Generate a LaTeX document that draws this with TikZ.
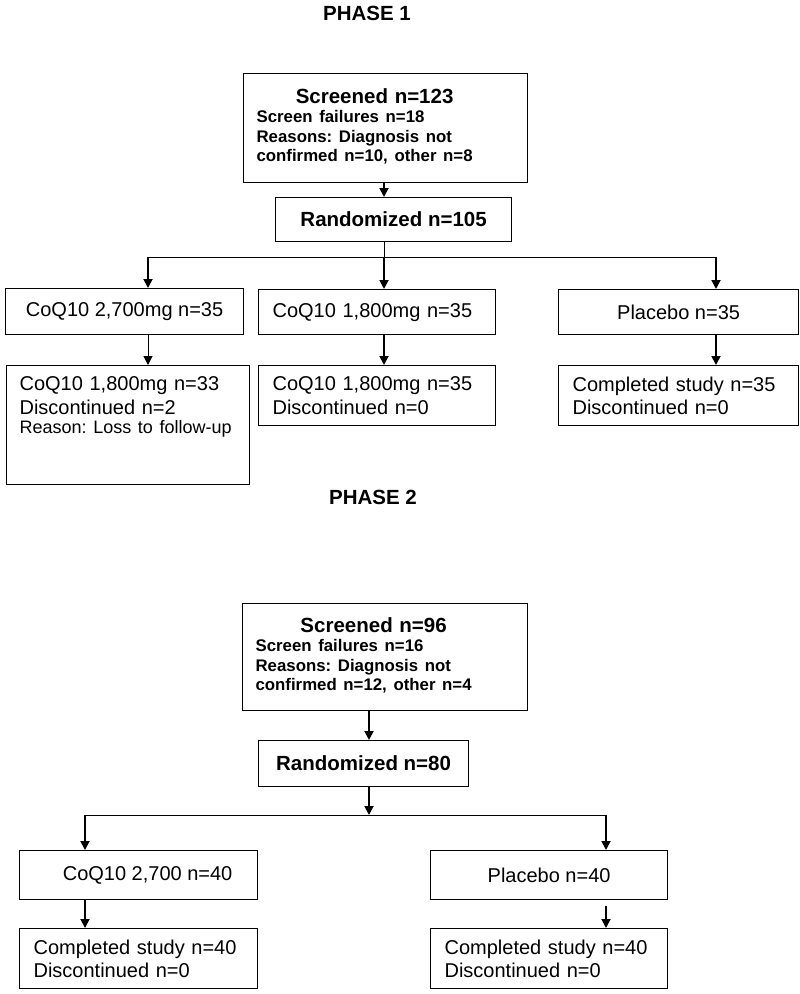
\documentclass[tikz,border=0pt]{standalone}
\usepackage{fontspec}
\setmainfont{Liberation Sans}
\usepackage{tikz}
\usetikzlibrary{arrows.meta}

\newcommand\armfont{\fontsize{20}{23.5}\selectfont}
\newcommand\bigfont{\fontsize{20.5}{24}\selectfont\bfseries}
\newcommand\notefont{\fontsize{16.8}{19.5}\selectfont\bfseries}
\frenchspacing

\begin{document}
\begin{tikzpicture}[x=1pt, y=-1pt,
    box/.style={draw, line width=1.2pt, anchor=north west, inner sep=0pt, font=\armfont},
    phase/.style={font=\bigfont},
    arr/.style={line width=1.8pt, -{Triangle[length=9pt,width=9pt]}},
    thinarr/.style={line width=1pt, -{Triangle[length=9pt,width=9pt]}},
    link/.style={line width=1pt}]
  \useasboundingbox (0,0) rectangle (800,994);

  % PHASE 1
  \node[phase] (ph1) at (367,13) {PHASE 1};
  \node[box, minimum width=284, minimum height=109, text width=258, inner xsep=13, align=left] (scr1) at (243,73)
    {\notefont\begin{tabular}{@{}l@{}}
      \multicolumn{1}{@{}c@{}}{\bigfont\hspace*{20pt}Screened n=123}\\
      Screen failures n=18\\
      Reasons: Diagnosis not\\
      confirmed n=10, other n=8
    \end{tabular}};
  \node[box, minimum width=236, minimum height=44, font=\bigfont] (rnd1) at (275,197) {Randomized n=105};

  \node[box, minimum width=238, minimum height=46] (armA) at (5,288) {CoQ10 2,700mg n=35};
  \node[box, minimum width=237, minimum height=45, text width=209, inner xsep=14, align=left] (armB) at (258,289) {CoQ10 1,800mg n=35};
  \node[box, minimum width=240, minimum height=45] (armC) at (558,289) {Placebo n=35};

  \node[box, text width=217, inner xsep=13, inner ysep=10, text height=15, text depth=84, align=left] (endA) at (6,365)
    {CoQ10 1,800mg n=33\\ Discontinued n=2\\[-4pt] {\fontsize{18}{23.5}\selectfont Reason: Loss to follow-up}};
  \node[box, minimum width=237, minimum height=60, text width=209, inner xsep=14, align=left] (endB) at (258,365)
    {CoQ10 1,800mg n=35\\ Discontinued n=0};
  \node[box, minimum width=240, minimum height=60, text width=212, inner xsep=14, align=left] (endC) at (558,365)
    {Completed study n=35\\ Discontinued n=0};

  \coordinate (t1) at (384,257);  % split point under randomized
  \coordinate (jA) at (148,257);
  \coordinate (jC) at (716,257);
  \draw[arr] (scr1.south -| t1) -- (rnd1.north -| t1);
  \draw[link] (rnd1.south -| t1) -- (t1);
  \draw[link] (jA) -- (jC);
  \draw[arr] (jA) -- (armA.north -| jA);
  \draw[arr] (t1) -- (armB.north -| t1);
  \draw[arr] (jC) -- (armC.north -| jC);
  \draw[thinarr] (armA.south -| jA) -- (endA.north -| jA);
  \draw[arr] (armB.south -| t1) -- (endB.north -| t1);
  \draw[arr] (armC.south -| jC) -- (endC.north -| jC);

  % PHASE 2
  \node[phase] (ph2) at (373,497) {PHASE 2};
  \node[box, minimum width=285, minimum height=107, text width=259, inner xsep=13, align=left] (scr2) at (242,603)
    {\notefont\begin{tabular}{@{}l@{}}
      \multicolumn{1}{@{}c@{}}{\bigfont\hspace*{20pt}Screened n=96}\\
      Screen failures n=16\\
      Reasons: Diagnosis not\\
      confirmed n=12, other n=4
    \end{tabular}};
  \node[box, minimum width=210, minimum height=46, font=\bigfont] (rnd2) at (258,740) {Randomized n=80};

  \node[box, minimum width=238, minimum height=49] (arm2A) at (19,850) {\hspace*{18pt}CoQ10 2,700 n=40};
  \node[box, minimum width=237, minimum height=49] (arm2B) at (430,850) {Placebo n=40};

  \node[box, minimum width=238, minimum height=60, text width=210, inner xsep=14, align=left] (end2A) at (19,928)
    {Completed study n=40\\ Discontinued n=0};
  \node[box, minimum width=237, minimum height=60, text width=209, inner xsep=14, align=left] (end2B) at (430,928)
    {Completed study n=40\\ Discontinued n=0};

  \coordinate (t2) at (369,815);  % split point under randomized
  \coordinate (jA2) at (85,815);
  \coordinate (jB2) at (606,815);
  \draw[arr] (scr2.south -| t2) -- (rnd2.north -| t2);
  \draw[arr] (rnd2.south -| t2) -- (t2);
  \draw[link] (jA2) -- (jB2);
  \draw[arr] (jA2) -- (arm2A.north -| jA2);
  \draw[arr] (jB2) -- (arm2B.north -| jB2);
  \draw[arr] (arm2A.south -| jA2) -- (end2A.north -| jA2);
  \draw[arr, shorten <=6pt] (arm2B.south -| jB2) -- (end2B.north -| jB2);
\end{tikzpicture}
\end{document}
